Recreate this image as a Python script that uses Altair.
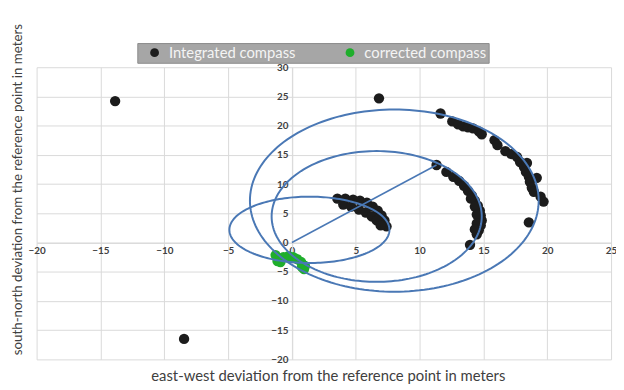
import numpy as np
import pandas as pd
import altair as alt

# ---- data (metres) ----
series_names = ["Integrated compass", "corrected compass"]

int_x = [3.56, 4.18, 4.79, 5.33, 5.87, 6.33, 6.72, 7.02, 7.25, 7.41, 4.02, 4.64, 5.25, 5.79, 6.25, 6.64, 6.95,
         11.33, 12.10, 12.64, 13.10, 13.48, 13.79, 14.10, 14.33, 14.56, 14.72, 14.79, 14.87, 14.79, 14.64, 14.48,
         14.02, 14.33, 14.48, 14.48, 14.33, 13.95,
         11.64, 12.56, 13.02, 13.41, 13.79, 14.18, 14.64, 14.87, 15.87, 16.10, 16.72, 17.18, 17.64, 17.87, 18.18,
         18.41, 18.33, 18.56, 18.64, 19.18, 18.79, 18.95, 19.48, 19.71, 18.56,
         -13.85, -8.45, 6.82]
int_y = [7.51, 7.51, 7.34, 7.17, 6.83, 6.15, 5.47, 4.62, 3.78, 2.76, 6.49, 6.15, 5.64, 5.14, 4.46, 3.78, 2.93,
         13.27, 12.08, 11.24, 10.56, 9.71, 8.86, 8.02, 7.17, 6.32, 5.47, 4.62, 3.78, 2.93, 2.08, 1.41,
         7.51, 6.15, 4.79, 3.27, 2.25, -0.40,
         22.08, 20.73, 20.22, 19.88, 19.71, 19.54, 19.03, 18.53, 17.51, 16.66, 15.64, 15.14, 14.63, 13.78, 12.93,
         13.61, 12.08, 11.24, 10.39, 11.07, 9.37, 8.69, 7.85, 7.00, 3.44,
         24.20, -16.50, 24.68]

cor_x = [-1.28, -1.13, -0.90, -0.67, -0.28, 0.10, 0.41, 0.72, 0.87, 0.95, 0.79, 1.02]
cor_y = [-2.15, -3.17, -3.34, -2.49, -2.32, -2.49, -2.83, -3.34, -3.85, -4.53, -4.19, -4.00]

# ellipses drawn over the chart: centre and semi-axes
ell_cx = [1.37, 6.64, 8.02]
ell_cy = [2.17, 4.46, 7.17]
ell_rx = [6.27, 8.23, 11.31]
ell_ry = [5.68, 11.19, 15.59]

# straight line from the reference point
seg_x = [0.0, 11.33]
seg_y = [0.0, 13.27]

x_ticks = list(range(-20, 30, 5))
y_ticks = list(range(-20, 35, 5))

# ---- tables ----
pts = pd.DataFrame({
    "x": int_x + cor_x,
    "y": int_y + cor_y,
    "series": [series_names[0]] * len(int_x) + [series_names[1]] * len(cor_x),
})

rows = []
t = np.linspace(0, 2 * np.pi, 181)
for k in range(len(ell_cx)):
    for i, tt in enumerate(t):
        rows.append({"x": ell_cx[k] + ell_rx[k] * np.cos(tt),
                     "y": ell_cy[k] + ell_ry[k] * np.sin(tt),
                     "id": f"e{k}", "o": i})
ell = pd.DataFrame(rows)
seg = pd.DataFrame({"x": seg_x, "y": seg_y, "id": ["s", "s"], "o": [0, 1]})

W, H = 582, 296
xdom = [-20, 25]
ydom = [-20, 30]
x_zero_off = -(H * (0 - ydom[0]) / (ydom[1] - ydom[0]))   # move x axis to y = 0
y_zero_off = -(W * (0 - xdom[0]) / (xdom[1] - xdom[0]))   # move y axis to x = 0

grid_c = "#d9d9d9"
txt_c = "#404040"
FONT = "Lato"

xaxis = alt.Axis(values=x_ticks, offset=x_zero_off, grid=True, gridColor=grid_c,
                 domainColor=grid_c, ticks=False, labelPadding=3, labelFlush=False,
                 labelOverlap=False, labelFont=FONT, labelFontWeight="bold",
                 labelFontSize=10, labelColor=txt_c,
                 title="east-west deviation from the reference point in meters",
                 titleFont=FONT, titleFontSize=15, titleFontWeight="normal",
                 titleColor=txt_c, titleX=295, titleY=135, titleBaseline="middle")
yaxis = alt.Axis(values=y_ticks, offset=y_zero_off, grid=True, gridColor=grid_c,
                 domainColor=grid_c, ticks=False, labelPadding=4, labelFlush=False,
                 labelOverlap=False, labelFont=FONT, labelFontWeight="bold",
                 labelFontSize=10, labelColor=txt_c,
                 title="south-north deviation from the reference point in meters",
                 titleFont=FONT, titleFontSize=13.5, titleFontWeight="normal",
                 titleColor=txt_c, titleX=-278, titleY=123.5, titleBaseline="middle",
                 titleAlign="center", titleAngle=270)

xs = alt.Scale(domain=xdom, nice=False, zero=False)
ys = alt.Scale(domain=ydom, nice=False, zero=False)

points = alt.Chart(pts).mark_circle(size=110, opacity=1).encode(
    x=alt.X("x:Q", scale=xs, axis=xaxis),
    y=alt.Y("y:Q", scale=ys, axis=yaxis),
    color=alt.Color("series:N",
                    scale=alt.Scale(domain=series_names, range=["#1c1c1c", "#1fae2c"]),
                    legend=alt.Legend(title=None, orient="none", legendX=102, legendY=-24.5,
                                      direction="horizontal", fillColor="#a6a6a6",
                                      strokeColor="#8c8c8c", padding=2, symbolOffset=8,
                                      labelOffset=7, columnPadding=39,
                                      labelFont=FONT, labelFontSize=15, labelColor="#f4f4f4",
                                      symbolType="circle", symbolSize=80, symbolStrokeWidth=0)),
)

ellipses = alt.Chart(ell).mark_line(color="#4a78b5", strokeWidth=2).encode(
    x=alt.X("x:Q", scale=xs, axis=xaxis),
    y=alt.Y("y:Q", scale=ys, axis=yaxis),
    detail="id:N", order="o:Q",
)
segment = alt.Chart(seg).mark_line(color="#4a78b5", strokeWidth=1.5).encode(
    x=alt.X("x:Q", scale=xs, axis=xaxis),
    y=alt.Y("y:Q", scale=ys, axis=yaxis),
    detail="id:N", order="o:Q",
)

chart = alt.layer(points, ellipses, segment).properties(
    width=W, height=H,
    autosize=alt.AutoSizeParams(type="none"),
    padding={"left": 29, "top": 57.5, "right": 5, "bottom": 28},
    background="white",
).configure_view(stroke=None)

chart.save("out.html", embed_options={"renderer": "svg", "actions": False})
